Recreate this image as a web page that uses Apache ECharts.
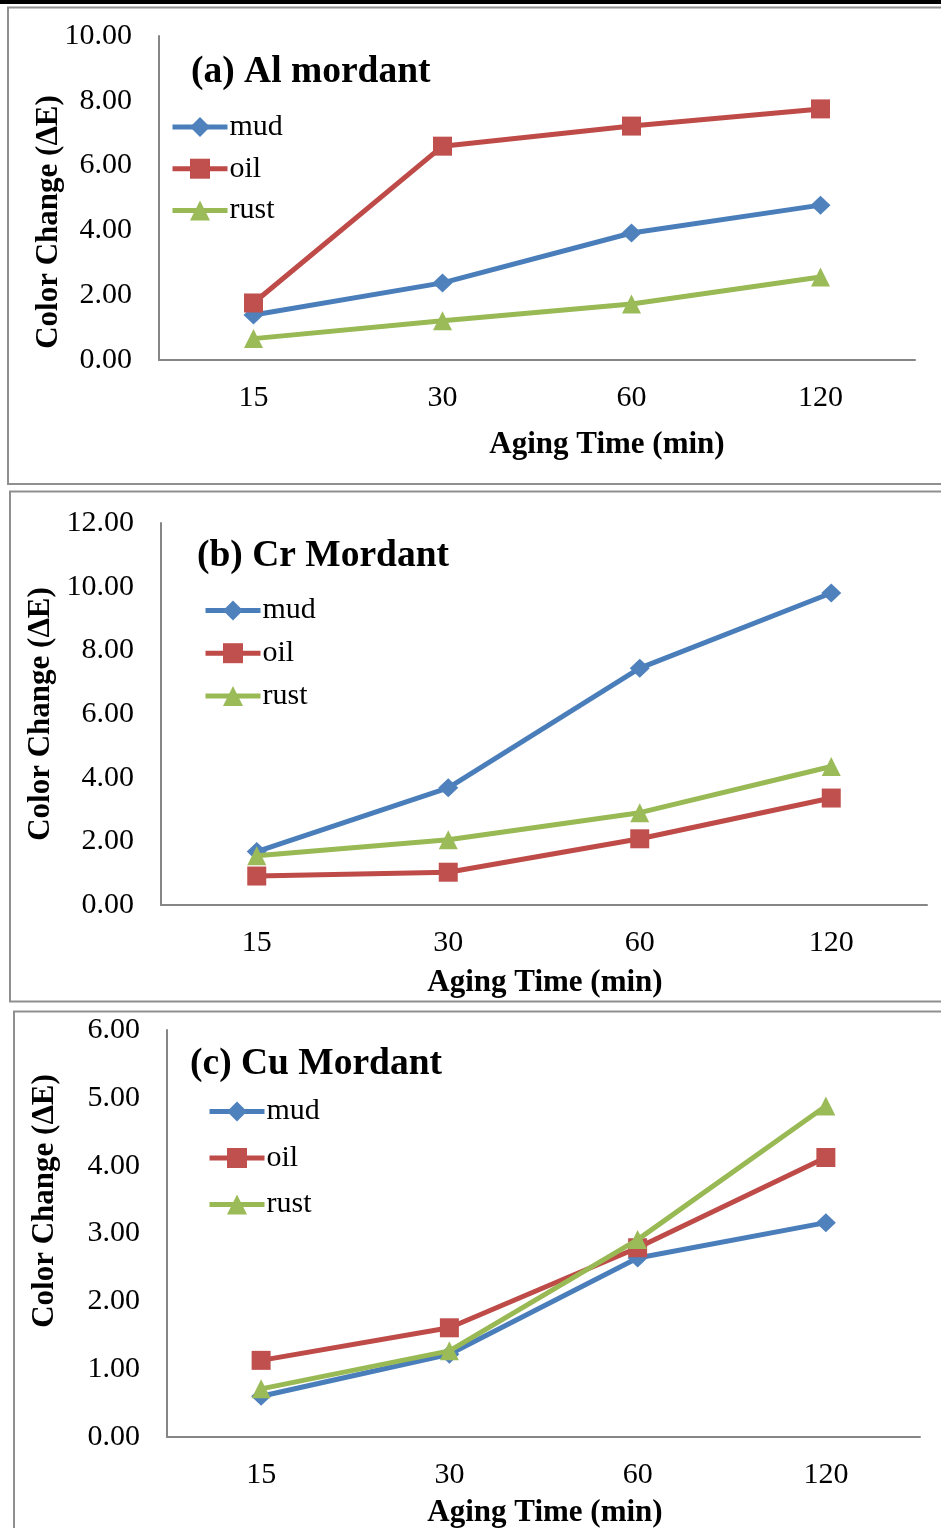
<!DOCTYPE html>
<html>
<head>
<meta charset="utf-8">
<script src="https://cdn.jsdelivr.net/npm/echarts@6/dist/echarts.min.js"></script>
<style>
html,body{margin:0;padding:0;background:#fff;}
#chart{width:941px;height:1528px;}
</style>
</head>
<body>
<div id="chart"></div>
<script>
const categories = ['15', '30', '60', '120'];
const seriesNames = ['mud', 'oil', 'rust'];
const panelTitles = ['(a) Al mordant', '(b) Cr Mordant', '(c) Cu Mordant'];
const xAxisTitle = 'Aging Time (min)';
const yAxisTitle = 'Color Change (\u0394E)';
const yMax = [10, 12, 6];
const yStep = [2, 2, 1];

const alMud = [1.39, 2.38, 3.92, 4.78];
const alOil = [1.76, 6.60, 7.22, 7.75];
const alRust = [0.66, 1.21, 1.73, 2.56];
const crMud = [1.68, 3.68, 7.44, 9.80];
const crOil = [0.91, 1.03, 2.08, 3.36];
const crRust = [1.55, 2.05, 2.90, 4.35];
const cuMud = [0.60, 1.22, 2.64, 3.16];
const cuOil = [1.13, 1.61, 2.79, 4.12];
const cuRust = [0.71, 1.27, 2.91, 4.88];

const panelData = [
  [alMud, alOil, alRust],
  [crMud, crOil, crRust],
  [cuMud, cuOil, cuRust]
];

const lineColors = ['#4A7EBB', '#BE4B48', '#98B954'];
const markerColors = ['#4F81BD', '#C0504D', '#9BBB59'];
const symbols = ['diamond', 'rect', 'triangle'];
const symbolSizes = [[20, 19], 19, 19];

const FONT = '"Liberation Serif", "Times New Roman", serif';

const grids = [
  {left: 159, top: 36, width: 756, height: 324},
  {left: 161, top: 523, width: 766, height: 382},
  {left: 167, top: 1030, width: 753, height: 407}
];
const legendPos = [
  {left: 170, top: 112, itemGap: 11.7},
  {left: 203, top: 595.5, itemGap: 12.7},
  {left: 207, top: 1096.5, itemGap: 16.5}
];
const titlePos = [[191, 72], [197, 556], [190, 1064]];
const xNamePos = [[607, 445], [545, 983], [545, 1513]];
const yNamePos = [[49, 222], [41, 714], [45, 1201]];
const frames = [
  {x: 8, y: 7.5, width: 945, height: 476.5},
  {x: 10, y: 491.5, width: 945, height: 510},
  {x: 14, y: 1011.5, width: 945, height: 600}
];

const chart = echarts.init(document.getElementById('chart'), null, {renderer: 'canvas'});

const xAxes = [], yAxes = [], series = [], legends = [], graphics = [];

graphics.push({type: 'rect', shape: {x: 0, y: 0, width: 941, height: 4}, style: {fill: '#000'}, z: 10});

for (let p = 0; p < 3; p++) {
  graphics.push({type: 'rect', shape: frames[p], style: {fill: 'none', stroke: '#8f8f8f', lineWidth: 2}, z: 0});
  xAxes.push({
    type: 'category', gridIndex: p, data: categories, boundaryGap: true,
    axisLine: {lineStyle: {color: '#868686', width: 2}},
    axisTick: {show: false},
    axisLabel: {margin: 23, color: '#000', fontFamily: FONT, fontSize: 30},
    splitLine: {show: false}
  });
  yAxes.push({
    type: 'value', gridIndex: p, min: 0, max: yMax[p], interval: yStep[p],
    axisLine: {show: true, lineStyle: {color: '#868686', width: 2}},
    axisTick: {show: false},
    splitLine: {show: false},
    axisLabel: {margin: 27, color: '#000', fontFamily: FONT, fontSize: 30,
      formatter: v => v.toFixed(2)}
  });
  for (let s = 0; s < 3; s++) {
    series.push({
      type: 'line', name: seriesNames[s], xAxisIndex: p, yAxisIndex: p,
      data: panelData[p][s],
      symbol: symbols[s], symbolSize: symbolSizes[s],
      lineStyle: {color: lineColors[s], width: 5},
      itemStyle: {color: markerColors[s]},
      color: markerColors[s],
      z: 3 + s
    });
  }
  legends.push({
    orient: 'vertical', left: legendPos[p].left, top: legendPos[p].top,
    padding: 0,
    itemGap: legendPos[p].itemGap, itemWidth: 55, itemHeight: 25,
    data: seriesNames, selectedMode: false,
    lineStyle: {width: 5},
    textStyle: {color: '#000', fontFamily: FONT, fontSize: 30, lineHeight: 29, padding: [0, 0, 0, -3]}
  });
  graphics.push({type: 'text', x: titlePos[p][0], y: titlePos[p][1],
    style: {text: panelTitles[p], font: 'bold 37.5px ' + FONT, fill: '#000', textAlign: 'left', textVerticalAlign: 'middle'}, z: 10});
  graphics.push({type: 'text', x: xNamePos[p][0], y: xNamePos[p][1],
    style: {text: xAxisTitle, font: 'bold 31px ' + FONT, fill: '#000', textAlign: 'center', textVerticalAlign: 'middle'}, z: 10});
  graphics.push({type: 'text', x: yNamePos[p][0], y: yNamePos[p][1], rotation: Math.PI / 2,
    style: {text: yAxisTitle, font: 'bold 31px ' + FONT, fill: '#000', textAlign: 'center', textVerticalAlign: 'middle'}, z: 10});
}

chart.setOption({
  animation: false,
  backgroundColor: '#fff',
  grid: grids,
  xAxis: xAxes,
  yAxis: yAxes,
  legend: legends,
  series: series,
  graphic: graphics
});
</script>
</body>
</html>
